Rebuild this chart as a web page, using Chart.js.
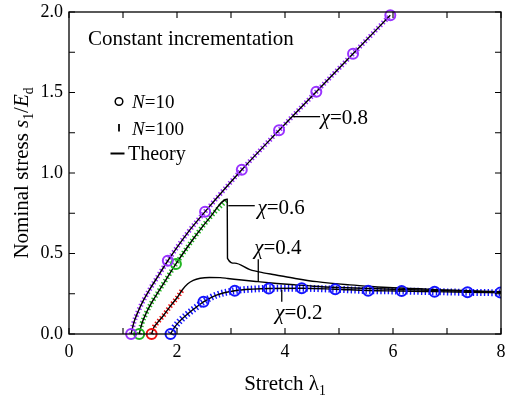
<title>Constant incrementation - stress vs stretch</title>

<script src="https://cdn.jsdelivr.net/npm/chart.js@4.4.1/dist/chart.umd.min.js"></script>

<style>
  body{ margin:0; background:#fff; }
  #stressChart{ display:block; }
</style>

<canvas id="stressChart" width="505" height="400"></canvas>

<script>
// ---- data ----
// theory curves (black)
const theory08X = [1.15, 1.2, 1.28, 1.38, 1.5, 1.65, 1.83, 2.2, 2.52, 3.2, 3.89, 4.58, 5.26, 5.95];
const theory08Y = [0, 0.07, 0.14, 0.21, 0.28, 0.36, 0.455, 0.63, 0.76, 1.02, 1.265, 1.505, 1.74, 1.98];

const theory06X = [1.30, 1.35, 1.43, 1.53, 1.65, 1.8, 1.98, 2.3, 2.6, 2.93, 2.935, 3.07, 3.35, 3.6, 3.81, 4.19, 4.59, 5.2, 5.6, 6, 7, 8];
const theory06Y = [0, 0.065, 0.13, 0.195, 0.26, 0.34, 0.435, 0.59, 0.72, 0.837, 0.47, 0.44, 0.40, 0.38, 0.368, 0.345, 0.325, 0.305, 0.295, 0.287, 0.274, 0.262];

const theory04X = [1.53, 1.57, 1.65, 1.75, 1.87, 2.0, 2.1, 2.2, 2.3, 2.43, 2.6, 2.8, 2.94, 3.2, 3.5, 3.85, 4.19, 4.52, 5, 6, 7, 8];
const theory04Y = [0, 0.04, 0.075, 0.115, 0.17, 0.225, 0.275, 0.312, 0.333, 0.346, 0.351, 0.35, 0.345, 0.335, 0.325, 0.314, 0.305, 0.297, 0.289, 0.278, 0.269, 0.26];

const theory02X = [1.88, 1.95, 2.05, 2.18, 2.35, 2.49, 2.73, 3.07, 3.4, 3.7, 4.31, 4.93, 5.54, 6.16, 6.77, 7.38, 8.0];
const theory02Y = [0, 0.04, 0.08, 0.12, 0.165, 0.2, 0.242, 0.269, 0.279, 0.283, 0.284, 0.278, 0.27, 0.267, 0.263, 0.259, 0.256];

// N=100 simulations (coloured ticks)
const n100_08X = theory08X;
const n100_08Y = theory08Y;
const n100_06X = [1.30, 1.35, 1.43, 1.53, 1.65, 1.8, 1.98, 2.3, 2.6, 2.93];
const n100_06Y = [0, 0.065, 0.13, 0.195, 0.26, 0.34, 0.435, 0.59, 0.72, 0.837];
const n100_04X = [1.53, 1.57, 1.65, 1.75, 1.87, 2.0, 2.1];
const n100_04Y = [0, 0.04, 0.075, 0.115, 0.17, 0.225, 0.275];
const n100_02X = theory02X;
const n100_02Y = theory02Y;

// N=10 simulations (circles)
const n10_08X = [1.15, 1.83, 2.52, 3.2, 3.89, 4.58, 5.26, 5.95];
const n10_08Y = [0, 0.455, 0.76, 1.02, 1.265, 1.505, 1.74, 1.98];
const n10_06X = [1.30, 1.98];
const n10_06Y = [0, 0.435];
const n10_04X = [1.53];
const n10_04Y = [0];
const n10_02X = [1.88, 2.49, 3.07, 3.7, 4.31, 4.93, 5.54, 6.16, 6.77, 7.38, 7.99];
const n10_02Y = [0, 0.2, 0.269, 0.283, 0.284, 0.278, 0.269, 0.267, 0.263, 0.259, 0.257];

const xTicks = [0, 2, 4, 6, 8];
const yTicks = [0, 0.5, 1.0, 1.5, 2.0];

const purple = "#9933ff", green = "#22b522", red = "#ee1111", blue = "#1414ff";
const FONT = '"Liberation Serif", "Times New Roman", serif';

function pts(xs, ys){ return xs.map((x, i) => ({x: x, y: ys[i]})); }

function theoryLine(xs, ys){
  return { data: pts(xs, ys), showLine: true, borderColor: "#000", borderWidth: 1.4,
           pointRadius: 0, cubicInterpolationMode: "monotone", order: 1, clip: false };
}
function ticksLine(xs, ys, color, w){
  return { data: pts(xs, ys), showLine: true, borderColor: color, borderWidth: w,
           borderDash: [1.4, 2.3], borderCapStyle: "butt", pointRadius: 0,
           cubicInterpolationMode: "monotone", order: 2, clip: false };
}
function circles(xs, ys, color, clip){
  return { data: pts(xs, ys), showLine: false, pointStyle: "circle", pointRadius: 5,
           pointBorderWidth: 2, borderColor: color, backgroundColor: "rgba(0,0,0,0)",
           pointBackgroundColor: "rgba(0,0,0,0)", order: 0, clip: clip };
}

// text made of runs: {t, i: italic, s: subscript}
function drawRuns(ctx, parts, x, y, size, align){
  let total = 0;
  const fonts = parts.map(p => (p.i ? "italic " : "") + (p.s ? size * 0.65 : size) + "px " + FONT);
  parts.forEach((p, k) => { ctx.font = fonts[k]; total += ctx.measureText(p.t).width; });
  let cx = align === "center" ? x - total / 2 : x;
  ctx.textBaseline = "alphabetic";
  ctx.textAlign = "left";
  parts.forEach((p, k) => {
    ctx.font = fonts[k];
    ctx.fillText(p.t, cx, y + (p.s ? size * 0.22 : 0));
    cx += ctx.measureText(p.t).width;
  });
}

const annotations = [
  { t: "0.8", line: [[4.15, 1.35], [4.65, 1.35]], at: [4.66, 1.345] },
  { t: "0.6", line: [[2.95, 0.797], [3.44, 0.797]], at: [3.49, 0.79] },
  { t: "0.4", line: [[3.505, 0.465], [3.505, 0.326]], at: [3.43, 0.54] },
  { t: "0.2", line: [[3.94, 0.273], [3.94, 0.2]], at: [3.82, 0.139] }
];

const decorPlugin = {
  id: "decor",
  afterDatasetsDraw(chart){
    const ctx = chart.ctx, a = chart.chartArea;
    const xs = chart.scales.x, ys = chart.scales.y;
    ctx.save();
    ctx.strokeStyle = "#000";
    ctx.fillStyle = "#000";
    ctx.lineWidth = 1.3;
    ctx.strokeRect(a.left, a.top, a.right - a.left, a.bottom - a.top);
    // inward ticks on all sides
    ctx.lineWidth = 1.1;
    ctx.beginPath();
    xs.ticks.forEach(t => {
      const px = xs.getPixelForValue(t.value);
      ctx.moveTo(px, a.bottom); ctx.lineTo(px, a.bottom - 6);
      ctx.moveTo(px, a.top); ctx.lineTo(px, a.top + 6);
    });
    ys.ticks.forEach(t => {
      const py = ys.getPixelForValue(t.value);
      ctx.moveTo(a.left, py); ctx.lineTo(a.left + 6, py);
      ctx.moveTo(a.right, py); ctx.lineTo(a.right - 6, py);
    });
    ctx.stroke();

    // annotations
    ctx.lineWidth = 1.3;
    annotations.forEach(an => {
      ctx.beginPath();
      ctx.moveTo(xs.getPixelForValue(an.line[0][0]), ys.getPixelForValue(an.line[0][1]));
      ctx.lineTo(xs.getPixelForValue(an.line[1][0]), ys.getPixelForValue(an.line[1][1]));
      ctx.stroke();
      drawRuns(ctx, [{t: "\u03c7", i: true}, {t: "=" + an.t}],
        xs.getPixelForValue(an.at[0]), ys.getPixelForValue(an.at[1]) + 7, 21, "left");
    });

    // title inside the plot
    drawRuns(ctx, [{t: "Constant incrementation"}], a.left + 19, a.top + 33, 21, "left");

    // legend
    const lx = a.left + 50;
    ctx.lineWidth = 1.5;
    ctx.beginPath(); ctx.arc(lx, a.top + 89.5, 3.8, 0, Math.PI * 2); ctx.stroke();
    ctx.lineWidth = 1.8;
    ctx.beginPath(); ctx.moveTo(lx, a.top + 112); ctx.lineTo(lx, a.top + 119.5); ctx.stroke();
    ctx.lineWidth = 2;
    ctx.beginPath(); ctx.moveTo(lx - 8.5, a.top + 141.5); ctx.lineTo(lx + 5.5, a.top + 141.5); ctx.stroke();
    drawRuns(ctx, [{t: "N", i: true}, {t: "=10"}], lx + 13, a.top + 96, 19, "left");
    drawRuns(ctx, [{t: "N", i: true}, {t: "=100"}], lx + 13, a.top + 123, 19, "left");
    drawRuns(ctx, [{t: "Theory"}], lx + 9, a.top + 148, 20, "left");

    // axis titles
    drawRuns(ctx, [{t: "Stretch \u03bb"}, {t: "1", s: true}], (a.left + a.right) / 2, 390, 21, "center");
    ctx.translate(28, (a.top + a.bottom) / 2);
    ctx.rotate(-Math.PI / 2);
    drawRuns(ctx, [{t: "Nominal stress "}, {t: "s", i: true}, {t: "1", s: true}, {t: "/"},
                   {t: "E", i: true}, {t: "d", s: true}], 0, 0, 21, "center");
    ctx.restore();
  }
};

const ctx = document.getElementById("stressChart").getContext("2d");

const chart = new Chart(ctx, {
  type: "scatter",
  data: {
    datasets: [
      circles(n10_08X, n10_08Y, purple, false),
      circles(n10_06X, n10_06Y, green, false),
      circles(n10_04X, n10_04Y, red, false),
      circles(n10_02X, n10_02Y, blue, {left: 10, top: 10, right: 0, bottom: 10}),
      theoryLine(theory08X, theory08Y),
      theoryLine(theory06X, theory06Y),
      theoryLine(theory04X, theory04Y),
      theoryLine(theory02X, theory02Y),
      ticksLine(n100_08X, n100_08Y, purple, 5),
      ticksLine(n100_06X, n100_06Y, green, 5),
      ticksLine(n100_04X, n100_04Y, red, 5),
      ticksLine(n100_02X, n100_02Y, blue, 7)
    ]
  },
  options: {
    responsive: false,
    devicePixelRatio: 1,
    animation: false,
    layout: { autoPadding: false, padding: { top: 12, right: 4, left: 0, bottom: 0 } },
    plugins: { legend: { display: false }, tooltip: { enabled: false } },
    scales: {
      x: {
        type: "linear", min: 0, max: 8,
        afterFit: s => { s.height = 66; s.paddingLeft = 0; s.paddingRight = 0; },
        afterBuildTicks: s => { s.ticks = [0,1,2,3,4,5,6,7,8].map(v => ({value: v})); },
        ticks: {
          autoSkip: false, maxRotation: 0, padding: 7, color: "#000",
          font: { family: FONT, size: 18 },
          callback: v => xTicks.includes(v) ? String(v) : ""
        },
        grid: { display: false, drawTicks: false },
        border: { display: false }
      },
      y: {
        min: 0, max: 2,
        afterFit: s => { s.width = 69; s.paddingTop = 0; s.paddingBottom = 0; },
        afterBuildTicks: s => { s.ticks = [0,0.25,0.5,0.75,1,1.25,1.5,1.75,2].map(v => ({value: v})); },
        ticks: {
          autoSkip: false, padding: 6, color: "#000",
          font: { family: FONT, size: 18 },
          callback: v => yTicks.some(t => Math.abs(t - v) < 1e-6) ? v.toFixed(1) : ""
        },
        grid: { display: false, drawTicks: false },
        border: { display: false }
      }
    }
  },
  plugins: [decorPlugin]
});
</script>
